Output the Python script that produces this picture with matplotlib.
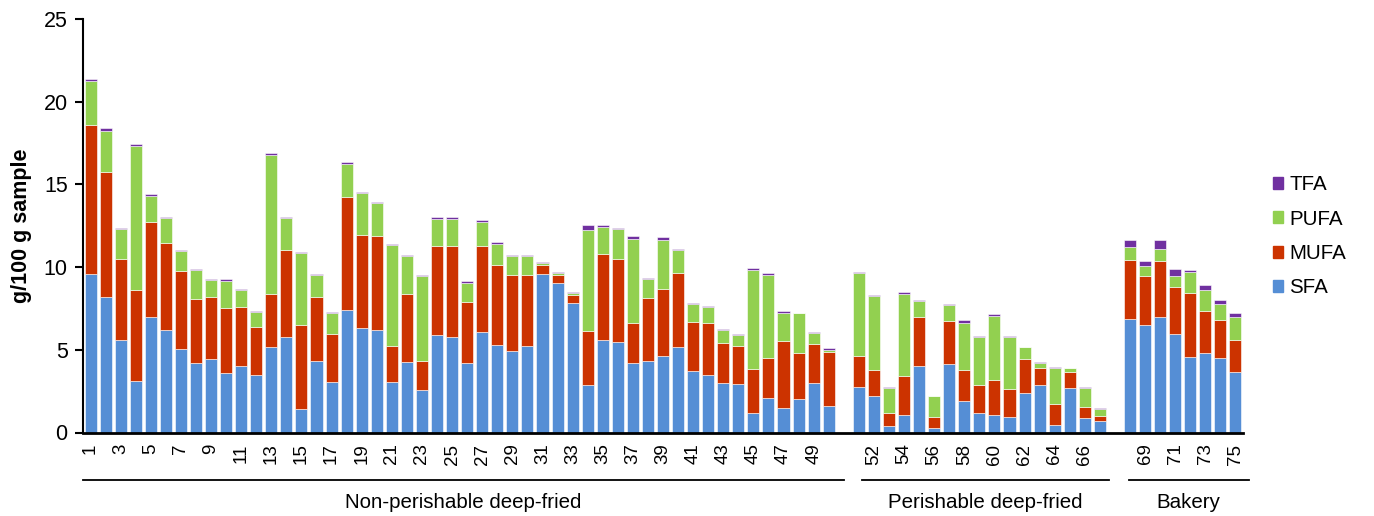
'''
Fatty acid composition (SFA, MUFA, PUFA, TFA) per sample, stacked bars
grouped by product type.
'''

# Matplotlib for graphs
import matplotlib.pyplot as plt
from matplotlib.patches import Patch

import numpy as np


'''
Data (g/100 g sample)
'''
C_GROUPS = ['Non-perishable deep-fried', 'Perishable deep-fried', 'Bakery']
C_GROUP_SIZES = [50, 17, 8]

sfa = [9.6, 8.2, 5.6, 3.1, 7.0, 6.2, 5.05, 4.2, 4.45, 3.6,
       4.0, 3.5, 5.15, 5.8, 1.45, 4.35, 3.05, 7.4, 6.3, 6.2,
       3.05, 4.25, 2.55, 5.9, 5.75, 4.2, 6.05, 5.3, 4.9, 5.25,
       9.6, 9.05, 7.85, 2.9, 5.6, 5.45, 4.2, 4.3, 4.65, 5.15,
       3.7, 3.5, 3.0, 2.95, 1.15, 2.1, 1.5, 2.0, 3.0, 1.6,
       2.75, 2.2, 0.4, 1.05, 4.0, 0.3, 4.15, 1.9, 1.15, 1.05,
       0.95, 2.4, 2.9, 0.45, 2.7, 0.85, 0.67,
       6.85, 6.5, 7.0, 5.95, 4.55, 4.8, 4.5, 3.65]

mufa = [9.0, 7.55, 4.9, 5.5, 5.75, 5.25, 4.7, 3.9, 3.75, 3.95,
        3.6, 2.9, 3.25, 5.25, 5.05, 3.85, 2.9, 6.85, 5.65, 5.7,
        2.2, 4.15, 1.8, 5.4, 5.5, 3.7, 5.25, 4.8, 4.6, 4.25,
        0.5, 0.45, 0.45, 3.25, 5.2, 5.05, 2.4, 3.85, 4.05, 4.5,
        3.0, 3.15, 2.4, 2.25, 2.7, 2.4, 4.05, 2.8, 2.35, 3.25,
        1.9, 1.6, 0.75, 2.35, 3.0, 0.63, 2.6, 1.85, 1.75, 2.1,
        1.7, 2.05, 1.0, 1.3, 0.95, 0.72, 0.35,
        3.6, 2.95, 3.35, 2.85, 3.9, 2.55, 2.3, 1.95]

pufa = [2.65, 2.5, 1.8, 8.75, 1.55, 1.5, 1.2, 1.75, 1.05, 1.6,
        1.0, 0.9, 8.4, 1.9, 4.35, 1.35, 1.25, 2.0, 2.5, 1.95,
        6.1, 2.3, 5.1, 1.6, 1.65, 1.15, 1.4, 1.3, 1.2, 1.15,
        0.15, 0.12, 0.15, 6.1, 1.65, 1.8, 5.1, 1.15, 2.95, 1.4,
        1.05, 0.95, 0.8, 0.7, 5.95, 5.0, 1.7, 2.4, 0.65, 0.15,
        5.0, 4.45, 1.55, 4.95, 0.95, 1.25, 0.95, 2.9, 2.85, 3.9,
        3.1, 0.7, 0.3, 2.15, 0.22, 1.13, 0.4,
        0.75, 0.6, 0.72, 0.65, 1.25, 1.25, 0.95, 1.4]

tfa = [0.1, 0.13, 0.05, 0.1, 0.14, 0.06, 0.08, 0.06, 0.06, 0.12,
       0.06, 0.06, 0.1, 0.06, 0.06, 0.06, 0.08, 0.1, 0.08, 0.08,
       0.06, 0.06, 0.06, 0.1, 0.12, 0.1, 0.12, 0.1, 0.06, 0.08,
       0.06, 0.06, 0.04, 0.32, 0.08, 0.06, 0.2, 0.06, 0.14, 0.06,
       0.06, 0.06, 0.06, 0.08, 0.16, 0.12, 0.08, 0.04, 0.06, 0.1,
       0.05, 0.06, 0.04, 0.12, 0.06, 0.02, 0.08, 0.14, 0.1, 0.12,
       0.06, 0.04, 0.06, 0.06, 0.04, 0.04, 0.06,
       0.45, 0.32, 0.55, 0.42, 0.14, 0.3, 0.28, 0.2]

C_SERIES = ['SFA', 'MUFA', 'PUFA', 'TFA']
C_COLORS = {'SFA': '#558ed5', 'MUFA': '#cc3300', 'PUFA': '#92d050',
            'TFA': '#7030a0'}


plt.rcParams['font.family'] = ['Liberation Sans', 'DejaVu Sans']

# Category slots: one blank slot between the product groups
slots = []
group_slots = []
pos = 0
for g, n in enumerate(C_GROUP_SIZES):
    group_slots.append(list(range(pos, pos + n)))
    slots += group_slots[-1]
    pos += n + 1
n_slots = pos - 1
slots = np.array(slots)

fig = plt.figure(figsize=(13.74, 5.16), dpi=100)
ax = fig.add_axes([83 / 1374, 1 - 432.5 / 516, 1160 / 1374, 413.5 / 516])

values = {'SFA': sfa, 'MUFA': mufa, 'PUFA': pufa, 'TFA': tfa}
bottom = np.zeros(len(sfa))
for s in C_SERIES:
    v = np.array(values[s])
    ax.bar(slots, v, bottom=bottom, width=0.8, color=C_COLORS[s],
           edgecolor='white', linewidth=0.4, label=s)
    bottom += v

# Axes formatting
ax.set_xlim(-0.5, n_slots - 0.5)
ax.set_ylim(0, 25)
ax.set_yticks(range(0, 26, 5))
ax.tick_params(axis='y', labelsize=15.5, length=6, width=1.5, pad=5)

# Sample numbers: every second category slot is labelled
sample_no = np.arange(1, len(sfa) + 1)
slot_label = {sl: str(n) for sl, n in zip(slots, sample_no)}
tick_pos = [p for p in range(0, n_slots, 2) if p in slot_label]
ax.set_xticks(tick_pos)
ax.set_xticklabels([slot_label[p] for p in tick_pos], rotation=90,
                   fontsize=13.5)
ax.tick_params(axis='x', length=0, pad=8)

ax.spines['top'].set_visible(False)
ax.spines['right'].set_visible(False)
ax.spines['left'].set_linewidth(1.5)
ax.spines['bottom'].set_linewidth(2)

ax.set_ylabel('g/100 g sample', fontsize=15.5, fontweight='bold', labelpad=8)

# Group brackets under the sample numbers
pads = [(0.0, 0.5), (0.7, 0.1), (0.4, 0.4)]
for name, gs, (p0, p1) in zip(C_GROUPS, group_slots, pads):
    x0 = gs[0] - 0.5 + p0
    x1 = gs[-1] + 0.5 + p1
    ax.plot([x0, x1], [-0.116, -0.116], color='black', lw=1.3,
            transform=ax.get_xaxis_transform(), clip_on=False)
    ax.text((x0 + x1) / 2, -0.17, name, ha='center', va='center',
            fontsize=14.8, transform=ax.get_xaxis_transform())

# Legend, top entry is the top of the stack
handles = [Patch(color=C_COLORS[s], label=s) for s in C_SERIES[::-1]]
fig.legend(handles=handles, loc='center left', bbox_to_anchor=(0.913, 0.542),
           frameon=False, fontsize=14.8, handlelength=0.5, handleheight=0.5,
           handletextpad=0.3, labelspacing=0.75)

plt.savefig('out.png', dpi=100)
